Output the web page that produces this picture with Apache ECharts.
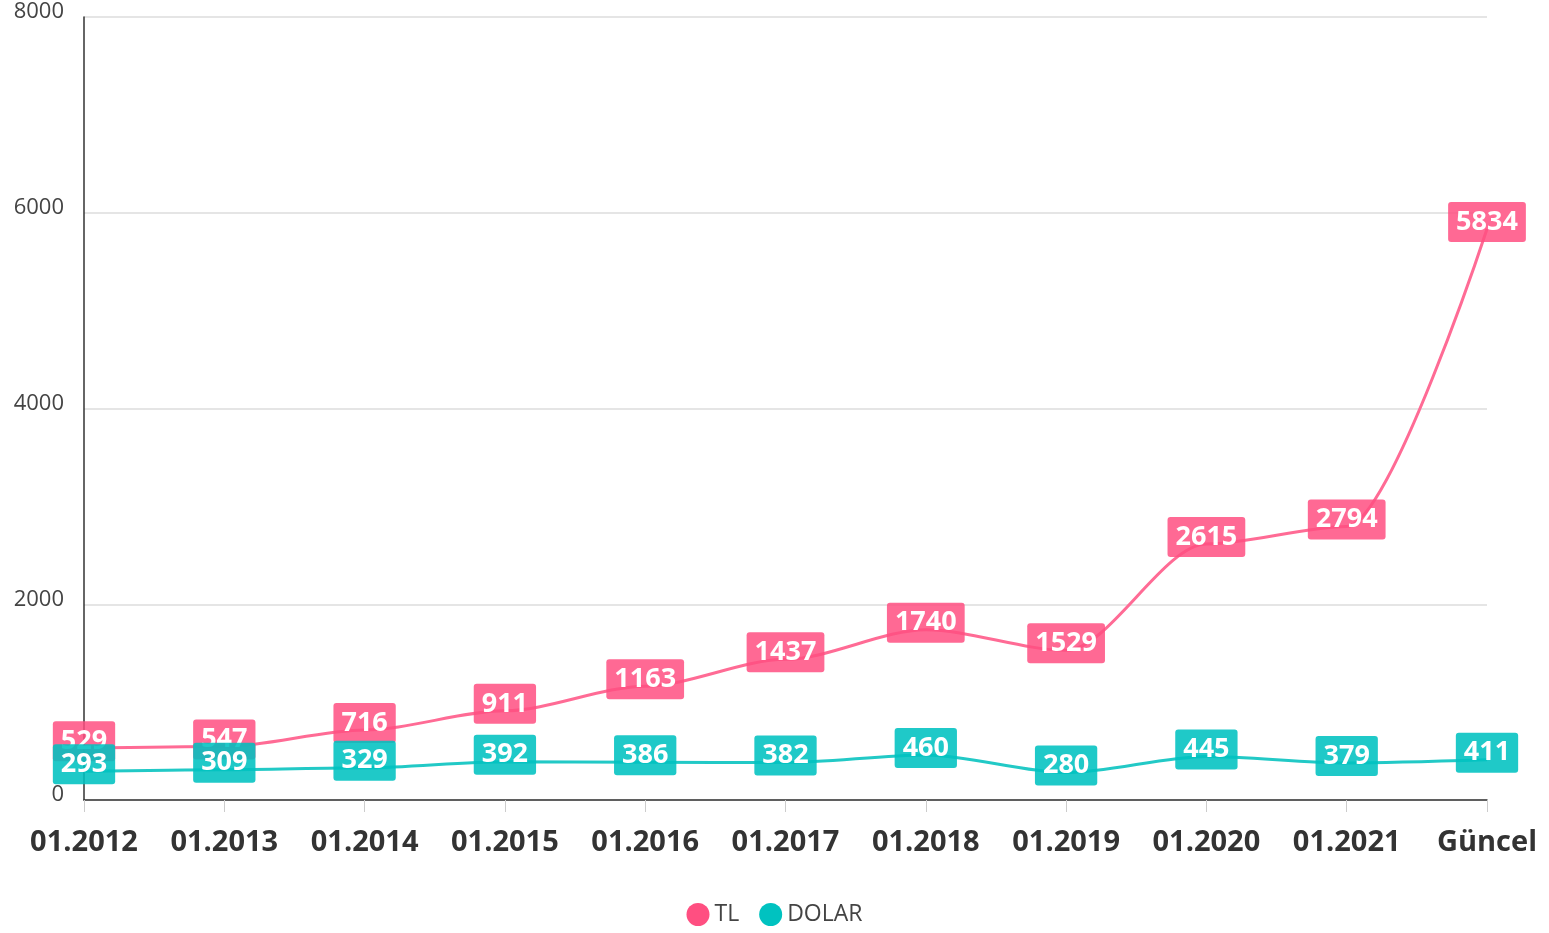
<!DOCTYPE html>
<html>
<head>
<meta charset="utf-8">
<script src="https://cdn.jsdelivr.net/npm/echarts@6/dist/echarts.min.js"></script>
<style>
  html, body { margin: 0; padding: 0; background: #fff; }
  #chart { width: 1549px; height: 933px; }
</style>
</head>
<body>
<div id="chart"></div>
<script>
const categories = ['01.2012', '01.2013', '01.2014', '01.2015', '01.2016', '01.2017', '01.2018', '01.2019', '01.2020', '01.2021', 'Güncel'];
const tlValues = [529, 547, 716, 911, 1163, 1437, 1740, 1529, 2615, 2794, 5834];
const dolarValues = [293, 309, 329, 392, 386, 382, 460, 280, 445, 379, 411];

const chart = echarts.init(document.getElementById('chart'));

const makeLabel = (bg) => ({
  show: true,
  position: 'inside',
  offset: [0, -7],
  color: '#fff',
  fontFamily: 'Open Sans',
  fontWeight: 'bold',
  fontSize: 27,
  lineHeight: 31,
  backgroundColor: bg,
  borderRadius: 3,
  padding: [6, 8, 3, 8]
});

chart.setOption({
  animation: false,
  textStyle: { fontFamily: 'Open Sans' },
  grid: { top: 17, bottom: 133, left: 84, right: 62, outerBoundsMode: 'none' },
  legend: {
    bottom: 2,
    left: 'center',
    icon: 'circle',
    itemWidth: 23,
    itemHeight: 23,
    itemGap: 20,
    textStyle: { color: '#444', fontSize: 23, fontFamily: 'Open Sans' },
    data: [
      { name: 'TL', itemStyle: { color: '#ff4f81' } },
      { name: 'DOLAR', itemStyle: { color: '#00c2c0' } }
    ]
  },
  xAxis: {
    type: 'category',
    data: categories,
    boundaryGap: false,
    axisLine: { lineStyle: { color: '#333', width: 1.5 } },
    axisTick: { show: true, length: 12, lineStyle: { color: '#ccc' } },
    axisLabel: { color: '#333', fontSize: 29, fontWeight: 'bold', margin: 28, fontFamily: 'Open Sans' }
  },
  yAxis: {
    type: 'value',
    min: 0,
    max: 8000,
    interval: 2000,
    axisLine: { show: true, lineStyle: { color: '#333', width: 1.5 } },
    splitLine: { lineStyle: { color: '#ddd', width: 1.5 } },
    axisLabel: {
      color: '#444', fontSize: 22, margin: 20, verticalAlign: 'bottom', lineHeight: 10,
      fontFamily: 'Open Sans',
      formatter: (v) => String(v)
    }
  },
  series: [
    {
      name: 'TL',
      type: 'line',
      data: tlValues,
      smooth: 0.3,
      smoothMonotone: 'x',
      symbol: 'circle',
      symbolSize: 0,
      itemStyle: { color: '#ff4f81' },
      lineStyle: { color: '#ff6b95', width: 3 },
      label: makeLabel('rgba(255,79,129,0.85)')
    },
    {
      name: 'DOLAR',
      type: 'line',
      data: dolarValues,
      smooth: 0.3,
      smoothMonotone: 'x',
      symbol: 'circle',
      symbolSize: 0,
      itemStyle: { color: '#00c2c0' },
      lineStyle: { color: '#22c9c6', width: 3 },
      label: makeLabel('rgba(0,194,192,0.88)')
    }
  ]
});
</script>
</body>
</html>
